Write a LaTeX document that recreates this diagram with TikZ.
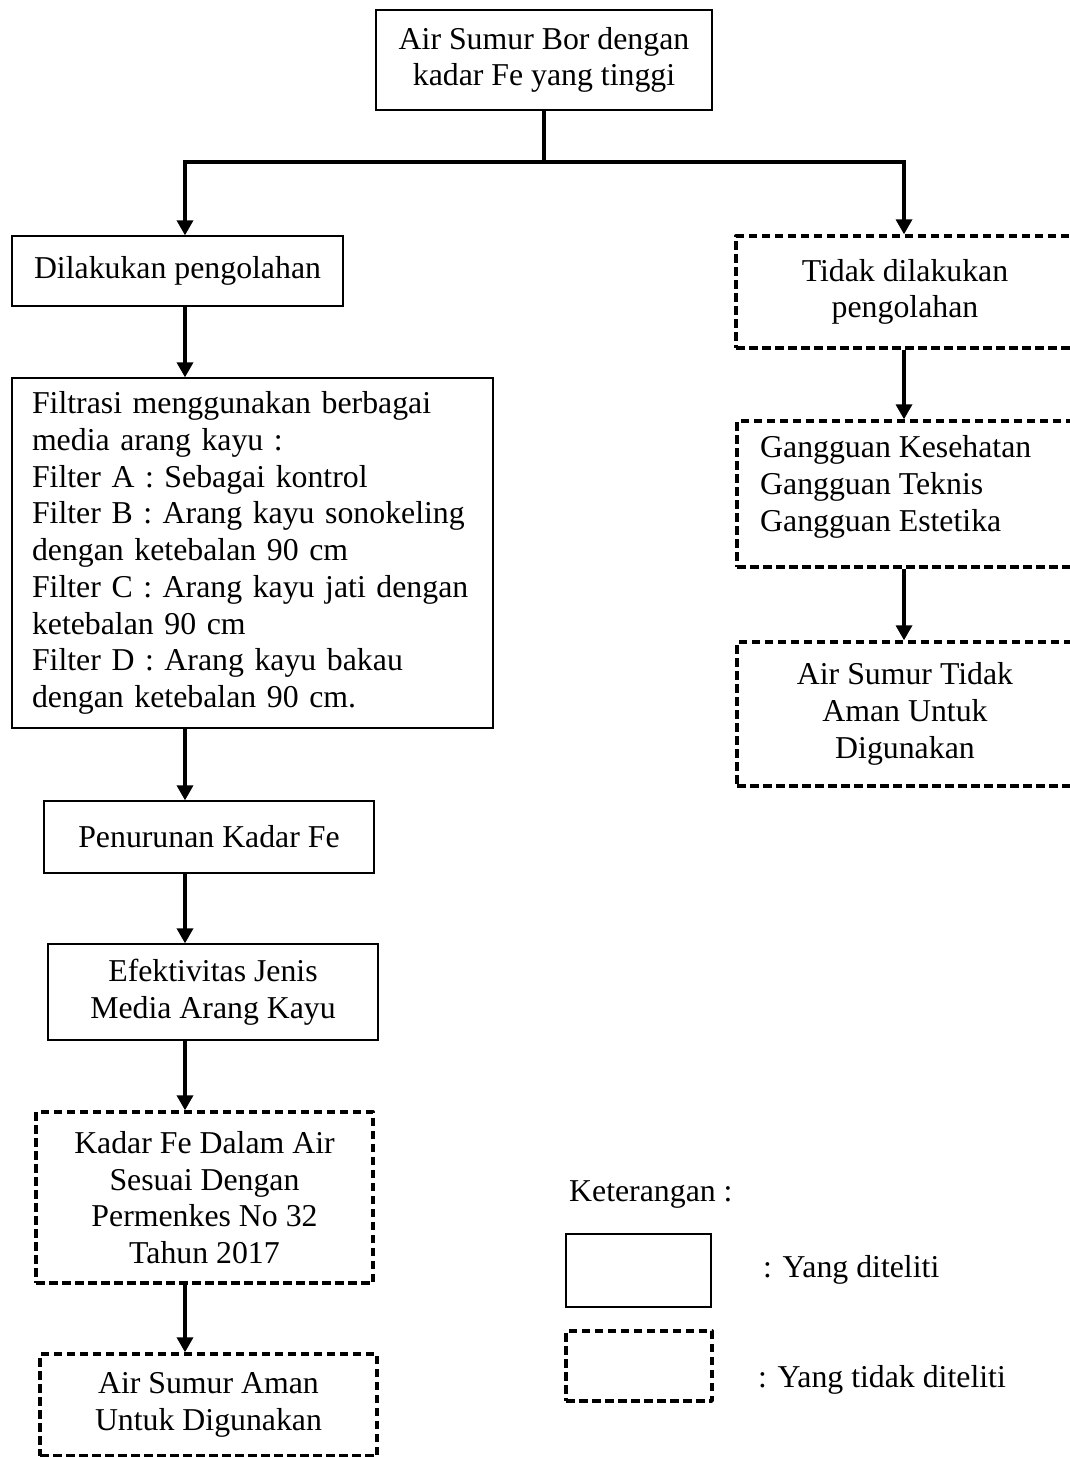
\documentclass[tikz,border=0pt]{standalone}
\usepackage{fontspec}
\setmainfont{Liberation Serif}
\usetikzlibrary{arrows.meta}
\begin{document}
\begin{tikzpicture}[x=1pt,y=-1pt,
  every node/.style={font=\fontsize{31.8}{36.7}\selectfont},
  solidbox/.style={draw,line width=1.3pt,inner sep=0pt,align=center},
  dashbox/.style={draw,line width=3.4pt,dash pattern=on 8.5pt off 4.5pt,line join=round,inner sep=0pt,align=center},
  conn/.style={line width=3.4pt},
  arr/.style={line width=3.4pt,-{Triangle[width=16pt,length=15pt]}},
  plain/.style={inner sep=0pt}]
\useasboundingbox (0,0) rectangle (1070,1457);
% left column
\node[solidbox,minimum width=336pt,minimum height=100pt] (top) at (544,60) {Air Sumur Bor dengan\\kadar Fe yang tinggi};
\node[solidbox,minimum width=331pt,minimum height=70pt] (dil) at (177.5,271) {Dilakukan pengolahan};
\node[solidbox,minimum width=481pt,minimum height=350pt,text width=441pt,align=left,inner xsep=20pt] (filt) at (252.5,553) {Filtrasi menggunakan berbagai\\media arang kayu :\\Filter A : Sebagai kontrol\\Filter B : Arang kayu sonokeling\\dengan ketebalan 90 cm\\Filter C : Arang kayu jati dengan\\ketebalan 90 cm\\Filter D : Arang kayu bakau\\dengan ketebalan 90 cm.};
\node[solidbox,minimum width=330pt,minimum height=72pt] (pen) at (209,837) {Penurunan Kadar Fe};
\node[solidbox,minimum width=330pt,minimum height=96pt] (efk) at (213,992) {Efektivitas Jenis\\Media Arang Kayu};
\node[dashbox,minimum width=337pt,minimum height=171pt] (kad) at (204.5,1197.5) {Kadar Fe Dalam Air\\Sesuai Dengan\\Permenkes No 32\\Tahun 2017};
\node[dashbox,minimum width=337pt,minimum height=102pt] (aman) at (208.5,1405) {Air Sumur Aman\\Untuk Digunakan};
% right column
\node[dashbox,minimum width=338pt,minimum height=112pt] (tdk) at (905,292) {Tidak dilakukan\\pengolahan};
\node[dashbox,minimum width=336pt,minimum height=146pt] (gg) at (905,494) {};
\node[plain,anchor=west,align=left] (ggt) at (760,487) {Gangguan Kesehatan\\Gangguan Teknis\\Gangguan Estetika};
\node[dashbox,minimum width=336pt,minimum height=144pt] (asum) at (905,714) {Air Sumur Tidak\\Aman Untuk\\Digunakan};
% legend
\node[plain,anchor=west] (ket) at (569,1195) {Keterangan :};
\node[solidbox,minimum width=145pt,minimum height=73pt] (leg1) at (638.5,1270.5) {};
\node[dashbox,minimum width=146pt,minimum height=70pt] (leg2) at (639,1366) {};
\node[plain,anchor=west] (leg1t) at (763,1270) {: Yang diteliti};
\node[plain,anchor=west] (leg2t) at (758,1380) {: Yang tidak diteliti};
% connectors
\coordinate (split) at (544,162);
\coordinate (cl) at (185,0);
\coordinate (cr) at (904,0);
\draw[conn] (top.south) -- (split);
\draw[arr] (split) -| (dil.north -| cl);
\draw[arr] (split) -| (tdk.north -| cr);
\draw[arr] (dil.south -| cl) -- (filt.north -| cl);
\draw[arr] (filt.south -| cl) -- (pen.north -| cl);
\draw[arr] (pen.south -| cl) -- (efk.north -| cl);
\draw[arr] (efk.south -| cl) -- (kad.north -| cl);
\draw[arr] (kad.south -| cl) -- (aman.north -| cl);
\draw[arr] (tdk.south -| cr) -- (gg.north -| cr);
\draw[arr] (gg.south -| cr) -- (asum.north -| cr);
\end{tikzpicture}
\end{document}
